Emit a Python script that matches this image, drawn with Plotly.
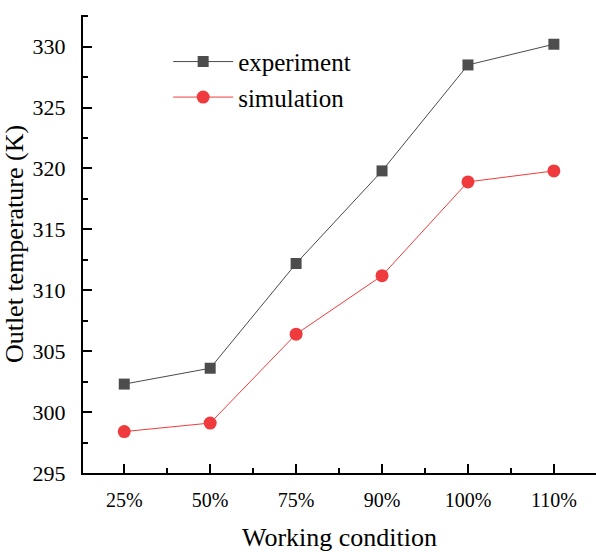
import plotly.graph_objects as go

# Outlet temperature at each working condition
conditions = ["25%", "50%", "75%", "90%", "100%", "110%"]
experiment = [302.3, 303.6, 312.2, 319.8, 328.5, 330.2]
simulation = [298.4, 299.1, 306.4, 311.2, 318.9, 319.8]
y_ticks = [295, 300, 305, 310, 315, 320, 325, 330]

x_pos = list(range(len(conditions)))
font_family = "Liberation Serif, Times New Roman, serif"

fig = go.Figure()
fig.add_trace(go.Scatter(
    x=x_pos, y=experiment, name="experiment", mode="lines+markers",
    line=dict(color="#4a4a4a", width=1),
    marker=dict(symbol="square", size=11, color="#4d4d4d"),
))
fig.add_trace(go.Scatter(
    x=x_pos, y=simulation, name="simulation", mode="lines+markers",
    line=dict(color="#f03c3c", width=1),
    marker=dict(symbol="circle", size=13, color="#ef3b3e"),
))

fig.update_layout(
    width=596, height=552,
    margin=dict(l=83, r=0, t=15, b=79),
    plot_bgcolor="white", paper_bgcolor="white",
    font=dict(family=font_family, color="black", size=21),
    showlegend=True,
    legend=dict(
        x=0.166, y=0.948, xanchor="left", yanchor="top",
        bgcolor="rgba(0,0,0,0)", font=dict(size=25, family=font_family),
        itemwidth=60, tracegroupgap=0,
    ),
    xaxis=dict(
        range=[-0.48, 5.49],
        tickmode="array", tickvals=x_pos, ticktext=conditions,
        tickfont=dict(size=20),
        showline=True, linecolor="black", linewidth=2,
        ticks="inside", ticklen=9, tickwidth=2, tickcolor="black",
        minor=dict(tickvals=[p + 0.5 for p in x_pos[:-1]] + [-0.5],
                   ticks="inside", ticklen=5, tickwidth=2, tickcolor="black"),
        showgrid=False, zeroline=False,
        ticklabelstandoff=8,
        title=dict(text="Working condition", font=dict(size=26), standoff=18),
    ),
    yaxis=dict(
        range=[295, 332.6],
        tickmode="array", tickvals=y_ticks,
        tickfont=dict(size=22),
        showline=True, linecolor="black", linewidth=2,
        ticks="inside", ticklen=9, tickwidth=2, tickcolor="black",
        minor=dict(tickvals=[v + 2.5 for v in y_ticks],
                   ticks="inside", ticklen=5, tickwidth=2, tickcolor="black"),
        showgrid=False, zeroline=False,
        ticklabelstandoff=11,
        title=dict(text="Outlet temperature (K)", font=dict(size=26), standoff=9),
    ),
)

fig.write_html("out.html")
